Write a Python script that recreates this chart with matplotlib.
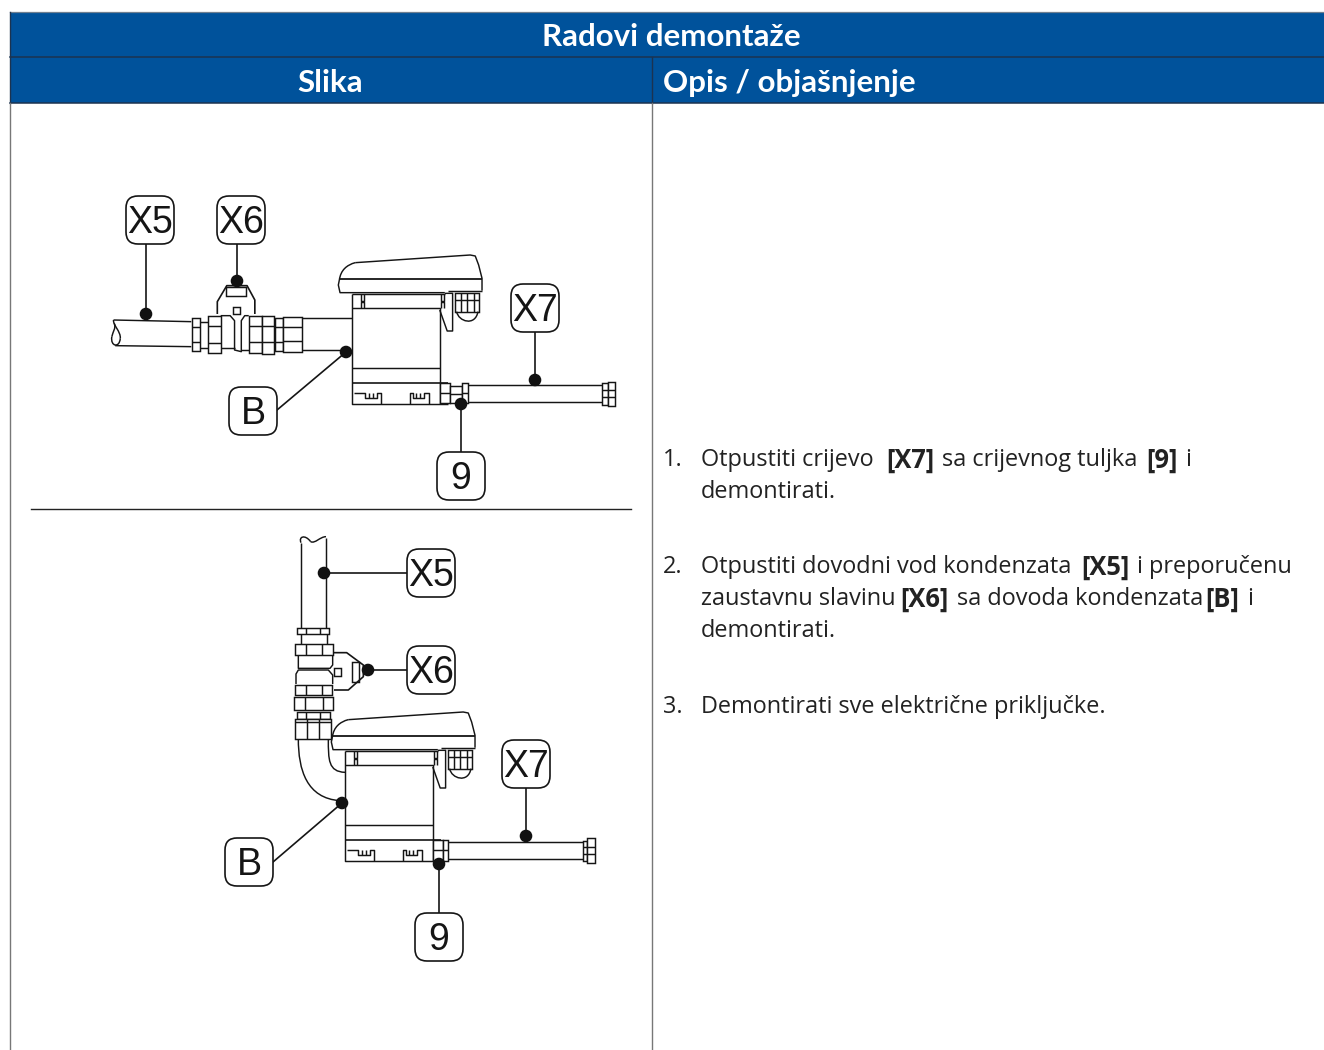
import matplotlib.pyplot as plt
from matplotlib.patches import Rectangle, FancyBboxPatch, Circle, Polygon
from matplotlib.path import Path
from matplotlib.patches import PathPatch
plt.switch_backend('agg')

TEXT_FONT = 'Open Sans'
HEAD_FONT = 'Lato'
BLUE = '#00529b'
DARK = '#1c3350'
INK = '#151515'

# tekst tablice
title = 'Radovi demontaže'
col_left = 'Slika'
col_right = 'Opis / objašnjenje'

# (x, y, tekst, bold)
body_runs = [
    (663, 458, '1.', False), (701, 458, 'Otpustiti crijevo', False), (886, 458, '[X7]', True),
    (942, 458, 'sa crijevnog tuljka', False), (1146, 458, '[9]', True), (1185, 458, 'i', False),
    (701, 490, 'demontirati.', False),
    (663, 565, '2.', False), (701, 565, 'Otpustiti dovodni vod kondenzata', False), (1081, 565, '[X5]', True),
    (1137, 565, 'i preporučenu', False),
    (701, 597, 'zaustavnu slavinu', False), (900, 597, '[X6]', True), (957, 597, 'sa dovoda kondenzata', False),
    (1205, 597, '[B]', True), (1247, 597, 'i', False),
    (701, 629, 'demontirati.', False),
    (663, 705, '3.', False), (701, 705, 'Demontirati sve električne priključke.', False),
]

# oznake: tekst, centar okvira, tocka, pocetak linije
callouts_top = [
    ('X5', (150, 220), (146, 314), (146, 244)),
    ('X6', (241, 220), (237, 281), (237, 244)),
    ('X7', (535, 308), (535, 380), (535, 332)),
    ('B', (253, 411), (346, 352), (277, 410)),
    ('9', (461, 476), (461, 404), (461, 452)),
]
callouts_bottom = [
    ('X5', (431, 573), (324, 573), (407, 573)),
    ('X6', (431, 670), (368, 670), (407, 670)),
    ('X7', (526, 764), (526, 836), (526, 788)),
    ('B', (249, 862), (342, 803), (273, 862)),
    ('9', (439, 937), (439, 864), (439, 913)),
]

fig = plt.figure(figsize=(13.24, 10.5), dpi=100)
ax = fig.add_axes([0, 0, 1, 1])
ax.set_xlim(0, 1324)
ax.set_ylim(1050, 0)
ax.axis('off')

LW = 1.05


def top(x, y):
    # koordinate iz gornjeg crteza
    return 100 + x / 2.958, 190 + y / 3


def bot(x, y):
    return 220 + x / 3, 530 + y / 3


def moved(x, y):
    # ista naprava na donjem crtezu
    px, py = top(x, y)
    return px - 7, py + 457


def line(conv, pts, lw=LW, closed=False, fill=None):
    p = [conv(x, y) for x, y in pts]
    if closed or fill:
        ax.add_patch(Polygon(p, closed=True, fc=fill or 'none', ec=INK, lw=lw, zorder=3))
    else:
        ax.plot([a[0] for a in p], [a[1] for a in p], color=INK, lw=lw, zorder=3, solid_capstyle='butt')


def box(conv, x0, y0, x1, y1, hlines=(), vlines=()):
    line(conv, [(x0, y0), (x1, y0), (x1, y1), (x0, y1)], fill='white')
    for y in hlines:
        line(conv, [(x0, y), (x1, y)])
    for x in vlines:
        line(conv, [(x, y0), (x, y1)])


def curve(conv, pts, lw=LW):
    # pts: start pa trojke kontrolnih tocaka
    p = [conv(x, y) for x, y in pts]
    codes = [Path.MOVETO] + [Path.CURVE4] * (len(p) - 1)
    ax.add_patch(PathPatch(Path(p, codes), fc='none', ec=INK, lw=lw, zorder=3))


def device(conv):
    # poklopac
    curve(conv, [(708, 270), (712, 240), (730, 225), (755, 218)])
    line(conv, [(755, 218), (1095, 195), (1110, 198), (1120, 225), (1130, 265), (1130, 302)])
    line(conv, [(708, 270), (705, 285), (710, 308), (1020, 308)])
    line(conv, [(1030, 303), (1130, 303)])
    line(conv, [(710, 267), (1130, 267)], lw=1.3)
    # kuciste
    line(conv, [(745, 312), (745, 643), (1030, 643)])
    line(conv, [(745, 312), (1020, 312)])
    line(conv, [(745, 355), (1005, 355), (1005, 643)])
    line(conv, [(745, 533), (1005, 533)])
    line(conv, [(745, 580), (1030, 580)], lw=1.2)
    for x0, x1 in ((772, 780), (1010, 1018)):
        line(conv, [(x0, 312), (x0, 332), (x1, 332), (x1, 312)])
        line(conv, [(x0, 353), (x0, 337), (x1, 337), (x1, 353)])
    # poluga
    line(conv, [(1005, 360), (1027, 423), (1043, 423), (1043, 310), (1020, 310)])
    # uvodnica
    box(conv, 1050, 310, 1122, 365, hlines=(330,), vlines=(1068, 1085, 1105))
    curve(conv, [(1055, 365), (1060, 395), (1110, 410), (1118, 365)])
    # kopce dolje
    line(conv, [(750, 608), (785, 608), (785, 625), (820, 625), (820, 608), (832, 608), (832, 643)])
    line(conv, [(918, 643), (918, 608), (925, 608), (925, 625), (958, 625), (958, 608), (972, 608), (972, 643)])
    for x in (795, 808, 935, 948):
        line(conv, [(x, 608), (x, 625)])


def callouts(items):
    for label, (cx, cy), dot, start in items:
        ax.plot([start[0], dot[0]], [start[1], dot[1]], color=INK, lw=1.2, zorder=5)
        ax.add_patch(Circle(dot, 6.3, fc='#111111', ec='none', zorder=6))
        ax.add_patch(FancyBboxPatch((cx - 11.5, cy - 11.5), 23, 23, boxstyle='round,pad=12.5,rounding_size=12',
                                    fc='white', ec=INK, lw=1.2, zorder=5))
        ax.text(cx, cy + 3, label, ha='center', va='center', fontsize=27, color=INK,
                family='Liberation Sans', zorder=7)


# zaglavlje
ax.add_patch(Rectangle((9.5, 12), 1314.5, 91, fc=BLUE, ec='none'))
ax.plot([9.5, 1324], [11.5, 11.5], color='#6f7f90', lw=0.9)
ax.plot([9.5, 1324], [57, 57], color=DARK, lw=1.1)
ax.plot([9.5, 1324], [103, 103], color=DARK, lw=1.1)
ax.plot([652, 652], [57, 103], color=DARK, lw=1)
ax.plot([9.5, 9.5], [12, 103], color=DARK, lw=1)
ax.plot([652, 652], [103, 1050], color='#777777', lw=1)
ax.plot([9.5, 9.5], [103, 1050], color='#777777', lw=1)
ax.plot([31, 631], [508.5, 508.5], color='#222222', lw=1)

ax.text(671, 37, title, ha='center', va='center', color='white', fontsize=22.5, fontweight='bold', family=HEAD_FONT)
ax.text(330, 83, col_left, ha='center', va='center', color='white', fontsize=22.5, fontweight='bold', family=HEAD_FONT)
ax.text(663, 83, col_right, ha='left', va='center', color='white', fontsize=22.5, fontweight='bold', family=HEAD_FONT)

for x, y, s, is_bold in body_runs:
    ax.text(x, y + 2, s, ha='left', va='center', color='#222222', fontsize=18.4 if is_bold else 16.95,
            fontweight='bold' if is_bold else 'normal', family=TEXT_FONT)

# gornji crtez
device(top)
line(top, [(40, 390), (270, 395)])
line(top, [(45, 467), (270, 470)])
curve(top, [(40, 390), (38, 405), (62, 425), (60, 445)])
curve(top, [(60, 445), (58, 475), (30, 470), (35, 440)])
curve(top, [(35, 440), (38, 425), (48, 415), (42, 400)])
box(top, 272, 385, 295, 483, hlines=(412, 455))
line(top, [(295, 395), (320, 395)])
line(top, [(295, 475), (320, 475)])
box(top, 320, 377, 357, 488, hlines=(408, 458))
line(top, [(357, 377), (385, 377), (398, 392), (398, 480), (418, 485), (418, 392), (428, 377), (440, 377)])
line(top, [(357, 475), (398, 475)])
line(top, [(418, 480), (440, 480)])
box(top, 440, 377, 478, 488, hlines=(408, 455))
box(top, 478, 377, 515, 491, hlines=(408, 455))
box(top, 518, 383, 540, 483, hlines=(412, 455))
box(top, 540, 380, 597, 487, hlines=(410, 452))
line(top, [(597, 385), (745, 385)])
line(top, [(597, 480), (745, 480)])
line(top, [(347, 372), (347, 335), (375, 287), (435, 287), (458, 330), (458, 372)], lw=1.2)
line(top, [(372, 292), (432, 292), (432, 317), (372, 317)], closed=True)
line(top, [(392, 350), (415, 350), (415, 372), (392, 372)], closed=True)
# cijev X7
box(top, 1005, 580, 1035, 640, hlines=(610,))
box(top, 1035, 587, 1072, 640, hlines=(612,))
box(top, 1072, 578, 1090, 640, hlines=(610,))
line(top, [(1090, 585), (1485, 585)])
line(top, [(1090, 637), (1485, 637)])
box(top, 1485, 578, 1502, 645, hlines=(600, 622))
box(top, 1502, 575, 1523, 648, hlines=(600, 622))
callouts(callouts_top)

# donji crtez
device(moved)
line(bot, [(243, 38), (243, 293)])
line(bot, [(318, 25), (318, 293)])
curve(bot, [(243, 38), (235, 20), (255, 12), (272, 35)])
curve(bot, [(272, 35), (285, 42), (300, 20), (318, 20)])
box(bot, 230, 293, 328, 313, vlines=(258, 300))
line(bot, [(243, 313), (243, 342)])
line(bot, [(320, 313), (320, 342)])
box(bot, 225, 342, 338, 375, vlines=(258, 305))
line(bot, [(235, 375), (235, 415), (330, 415), (338, 405), (338, 378)])
line(bot, [(228, 462), (228, 432), (235, 420), (325, 420), (338, 435), (338, 462)])
box(bot, 225, 465, 335, 495, vlines=(258, 305))
box(bot, 222, 500, 340, 540, vlines=(255, 308))
box(bot, 230, 545, 330, 568, vlines=(258, 300))
box(bot, 225, 568, 333, 627, hlines=(575,), vlines=(260, 298))
line(bot, [(342, 368), (380, 368), (430, 405), (430, 440), (385, 480), (342, 480)], lw=1.2)
line(bot, [(397, 397), (417, 397), (417, 455), (397, 455)], closed=True)
line(bot, [(342, 413), (363, 413), (363, 437), (342, 437)], closed=True)
curve(bot, [(235, 627), (235, 720), (260, 805), (360, 812)])
curve(bot, [(325, 627), (325, 690), (325, 725), (375, 727)])
box(bot, 638, 930, 668, 992, hlines=(960,))
box(bot, 668, 930, 685, 992, hlines=(960,))
line(bot, [(685, 935), (1088, 935)])
line(bot, [(685, 987), (1088, 987)])
box(bot, 1088, 932, 1100, 992, hlines=(950, 972))
box(bot, 1100, 925, 1124, 998, hlines=(950, 972))
callouts(callouts_bottom)

fig.savefig('out.png', dpi=100, facecolor='white')
